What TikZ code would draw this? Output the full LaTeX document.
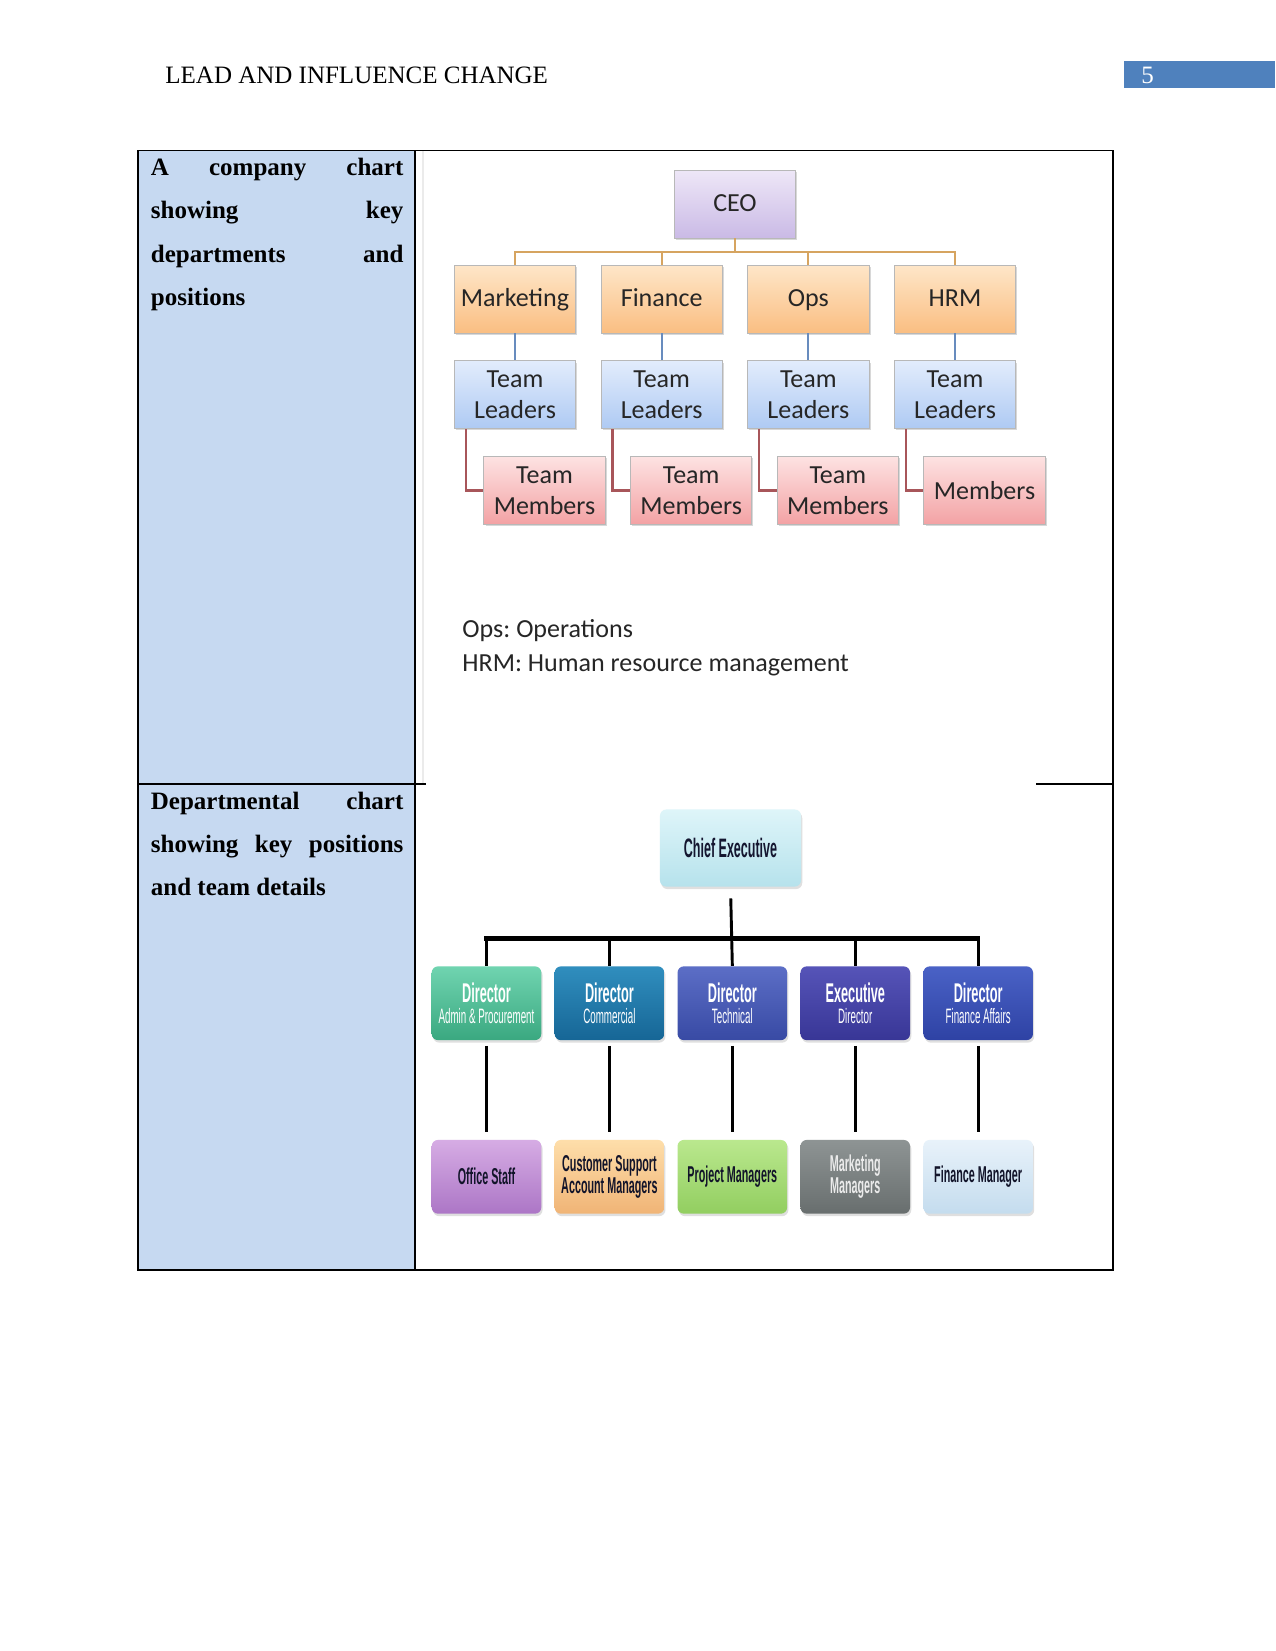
\documentclass[tikz,border=0pt]{standalone}
\usepackage{fontspec}
\setmainfont{Liberation Serif}
\newfontfamily\calibri{Carlito}
\newfontfamily\narrowsf[FakeStretch=0.47]{Liberation Sans}
\usepackage{xcolor}
\usetikzlibrary{positioning,calc,shadows}
\definecolor{pageblue}{RGB}{79,129,189}
\definecolor{cellblue}{RGB}{198,217,241}
\definecolor{ceotop}{RGB}{238,231,247}
\definecolor{ceobot}{RGB}{202,186,230}
\definecolor{depttop}{RGB}{254,230,200}
\definecolor{deptbot}{RGB}{250,190,130}
\definecolor{leadtop}{RGB}{226,236,252}
\definecolor{leadbot}{RGB}{174,202,243}
\definecolor{memtop}{RGB}{253,226,226}
\definecolor{membot}{RGB}{243,162,164}
\definecolor{deptedge}{RGB}{214,164,96}
\definecolor{leadedge}{RGB}{104,140,190}
\definecolor{memedge}{RGB}{168,86,90}
\definecolor{chieftop}{RGB}{222,245,249}
\definecolor{chiefbot}{RGB}{182,226,236}
\definecolor{chieftext}{RGB}{20,22,48}
\definecolor{lowtext}{RGB}{18,20,42}
\tikzset{
  rule/.style={line width=0.55pt, black},
  imgedge/.style={line width=0.5pt, black!8},
  headtext/.style={font=\fontsize{12}{14}\selectfont, inner sep=0pt, anchor=base west},
  celltext/.style={text width=121.2pt, align=justify, inner sep=0pt, anchor=north west,
                   font=\bfseries\fontsize{12}{20.7}\selectfont},
  orgbox/.style={rectangle, draw=black!28, minimum width=58.2pt, minimum height=32.6pt,
                 inner sep=1pt, align=center, text=black!85,
                 font=\calibri\fontsize{12.5}{15.2}\selectfont,
                 drop shadow={shadow xshift=0.8pt, shadow yshift=-0.8pt, opacity=0.3}},
  onerow/.style={text height=9.4pt, text depth=2.6pt},
  ceobox/.style={orgbox, onerow, top color=ceotop, bottom color=ceobot},
  deptbox/.style={orgbox, onerow, top color=depttop, bottom color=deptbot},
  leadbox/.style={orgbox, top color=leadtop, bottom color=leadbot},
  membox/.style={orgbox, top color=memtop, bottom color=membot},
  deptline/.style={line width=1.1pt, deptedge},
  leadline/.style={line width=1.1pt, leadedge},
  memline/.style={line width=1.1pt, memedge},
  note/.style={font=\calibri\frenchspacing\fontsize{12.5}{15}\selectfont, text=black!85,
               inner sep=0pt, anchor=base west},
  rankbox/.style={rectangle, rounded corners=3pt, minimum width=52.6pt, minimum height=35.4pt,
                  inner sep=1pt, align=center,
                  drop shadow={shadow xshift=0.6pt, shadow yshift=-1.2pt, opacity=0.25}},
  chiefbox/.style={rankbox, minimum width=67.7pt, minimum height=37pt, top color=chieftop,
                   bottom color=chiefbot, text=chieftext,
                   font=\narrowsf\bfseries\fontsize{12.8}{12}\selectfont},
  dirbox/.style={rankbox, text=white, font=\narrowsf\fontsize{10}{9.8}\selectfont},
  lowbox/.style={rankbox, text=lowtext, font=\narrowsf\bfseries\fontsize{11}{10.6}\selectfont},
  dgreen/.style={top color={rgb,255:red,112;green,212;blue,176}, bottom color={rgb,255:red,58;green,168;blue,128}},
  dteal/.style={top color={rgb,255:red,48;green,142;blue,190}, bottom color={rgb,255:red,22;green,102;blue,150}},
  dblue/.style={top color={rgb,255:red,92;green,110;blue,198}, bottom color={rgb,255:red,56;green,74;blue,164}},
  dindigo/.style={top color={rgb,255:red,86;green,84;blue,184}, bottom color={rgb,255:red,56;green,54;blue,150}},
  droyal/.style={top color={rgb,255:red,74;green,98;blue,198}, bottom color={rgb,255:red,46;green,66;blue,164}},
  lpurple/.style={top color={rgb,255:red,214;green,172;blue,228}, bottom color={rgb,255:red,172;green,118;blue,198}},
  lorange/.style={top color={rgb,255:red,254;green,222;blue,170}, bottom color={rgb,255:red,240;green,180;blue,118}},
  lgreen/.style={top color={rgb,255:red,186;green,232;blue,142}, bottom color={rgb,255:red,146;green,206;blue,96}},
  lgray/.style={top color={rgb,255:red,142;green,148;blue,148}, bottom color={rgb,255:red,104;green,110;blue,110}},
  lsky/.style={top color={rgb,255:red,232;green,242;blue,250}, bottom color={rgb,255:red,196;green,220;blue,238}},
  busline/.style={line width=2pt, black, line cap=rect},
  stemline/.style={line width=1.4pt, black}
}
\newcommand{\dirhead}[1]{{\bfseries\fontsize{13}{9.8}\selectfont #1}}

\begin{document}
\begin{tikzpicture}[x=0.48pt, y=0.48pt]
\fill[white] (0,0) rectangle (1275,-1651);
\useasboundingbox (0,0) rectangle (1275,-1651);
% running head
\node[headtext] (title) at (165,-84) {LEAD AND INFLUENCE CHANGE};
\fill[pageblue] (1124,-61) rectangle (1275,-88);
\node[headtext, text=white] (pagenum) at (1141,-84) {5};
% table
\fill[cellblue] (138,-150.5) rectangle (415,-1270);
\draw[imgedge] (423,-151) -- (423,-783.5);
\draw[rule] (138,-150.5) rectangle (1113,-1270);
\draw[rule] (415,-150.5) -- (415,-1270);
\draw[rule] (138,-784) -- (426,-784);
\draw[rule] (1036,-784) -- (1113,-784);
\node[celltext] (cellA) at (150.5,-158) {A company chart\linebreak showing key\linebreak departments and\linebreak positions};
\node[celltext] (cellB) at (150.5,-791.7) {Departmental chart\linebreak showing key positions\linebreak and team details};
% company chart
\node[ceobox] (ceo) at (735,-204) {CEO};
\node[deptbox] (mktg) at (515,-299) {Marketing};
\node[deptbox, right=11.8pt of mktg] (fin) {Finance};
\node[deptbox, right=11.8pt of fin] (ops) {Ops};
\node[deptbox, right=11.8pt of ops] (hrm) {HRM};
\node[leadbox, below=13pt of mktg] (lead1) {Team\\Leaders};
\node[leadbox, below=13pt of fin] (lead2) {Team\\Leaders};
\node[leadbox, below=13pt of ops] (lead3) {Team\\Leaders};
\node[leadbox, below=13pt of hrm] (lead4) {Team\\Leaders};
\node[membox, anchor=north west] (mem1) at ($(lead1.south west)+(29.5,-27)$) {Team\\Members};
\node[membox, anchor=north west] (mem2) at ($(lead2.south west)+(29.5,-27)$) {Team\\Members};
\node[membox, anchor=north west] (mem3) at ($(lead3.south west)+(29.5,-27)$) {Team\\Members};
\node[membox, anchor=north west] (mem4) at ($(lead4.south west)+(29.5,-27)$) {Members};
\coordinate (topbus) at ($(ceo.south)+(0,-13.5)$);
\draw[deptline] (ceo.south) -- (topbus);
\draw[deptline] (mktg.north) |- (topbus) -| (hrm.north);
\draw[deptline] (fin.north) -- (fin.north |- topbus);
\draw[deptline] (ops.north) -- (ops.north |- topbus);
\draw[leadline] (mktg) -- (lead1);
\draw[leadline] (fin) -- (lead2);
\draw[leadline] (ops) -- (lead3);
\draw[leadline] (hrm) -- (lead4);
\draw[memline] ($(lead1.south west)+(12,0)$) |- (mem1.west);
\draw[memline] ($(lead2.south west)+(12,0)$) |- (mem2.west);
\draw[memline] ($(lead3.south west)+(12,0)$) |- (mem3.west);
\draw[memline] ($(lead4.south west)+(12,0)$) |- (mem4.west);
\node[note] (opsnote) at (462,-637) {Ops: Operations};
\node[note] (hrmnote) at (462,-671) {HRM: Human resource management};
% departmental chart
\node[chiefbox] (chief) at (730.5,-848) {Chief Executive};
\node[dirbox, dgreen] (dir1) at (486.5,-1003.25) {\dirhead{Director}\\Admin \& Procurement};
\node[dirbox, dteal, right=6pt of dir1] (dir2) {\dirhead{Director}\\Commercial};
\node[dirbox, dblue, right=6pt of dir2] (dir3) {\dirhead{Director}\\Technical};
\node[dirbox, dindigo, right=6pt of dir3] (dir4) {\dirhead{Executive}\\Director};
\node[dirbox, droyal, right=6pt of dir4] (dir5) {\dirhead{Director}\\Finance Affairs};
\node[lowbox, lpurple, below=47.5pt of dir1] (low1) {Office Staff};
\node[lowbox, lorange, below=47.5pt of dir2] (low2) {Customer Support\\Account Managers};
\node[lowbox, lgreen, below=47.5pt of dir3] (low3) {Project Managers};
\node[lowbox, lgray, below=47.5pt of dir4, text=black!8] (low4) {Marketing\\Managers};
\node[lowbox, lsky, below=47.5pt of dir5] (low5) {Finance Manager};
\coordinate (lowbus) at ($(chief.south)+(0,-51.5)$);
\draw[stemline, shorten <=5.5pt] (chief.south) -- (dir3.north);
\draw[busline] (dir1.north |- lowbus) -- (dir5.north |- lowbus);
\draw[stemline] (dir1.north |- lowbus) -- (dir1.north);
\draw[stemline] (dir2.north |- lowbus) -- (dir2.north);
\draw[stemline] (dir4.north |- lowbus) -- (dir4.north);
\draw[stemline] (dir5.north |- lowbus) -- (dir5.north);
\draw[stemline, shorten <=2.5pt, shorten >=3.5pt] (dir1) -- (low1);
\draw[stemline, shorten <=2.5pt, shorten >=3.5pt] (dir2) -- (low2);
\draw[stemline, shorten <=2.5pt, shorten >=3.5pt] (dir3) -- (low3);
\draw[stemline, shorten <=2.5pt, shorten >=3.5pt] (dir4) -- (low4);
\draw[stemline, shorten <=2.5pt, shorten >=3.5pt] (dir5) -- (low5);
\end{tikzpicture}
\end{document}
